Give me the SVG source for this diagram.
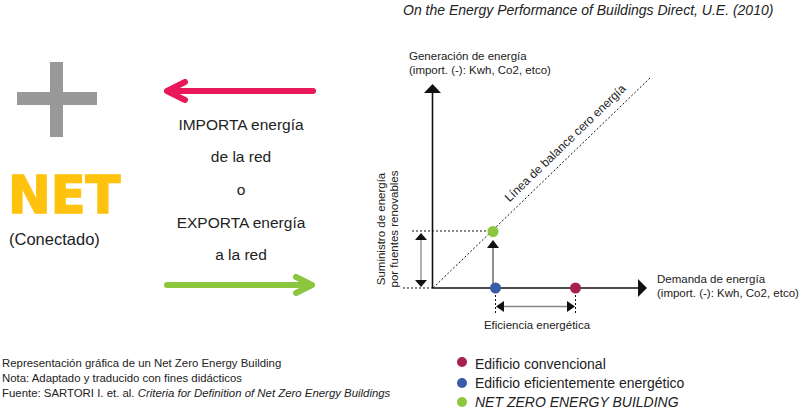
<svg xmlns="http://www.w3.org/2000/svg" width="802" height="412" viewBox="0 0 802 412">
<defs>
<style>
text{font-family:"Liberation Sans","Noto Sans",Arial,sans-serif;fill:#222}
.lbl{font-size:11.5px}
.mid{font-size:15.5px;text-anchor:middle}
.leg{font-size:14px}
.note{font-size:11.4px}
.axis{stroke:#111;stroke-width:1.6;fill:none}
.dot{stroke:#111;stroke-width:1;stroke-dasharray:2,2;fill:none}
.thin{stroke:#333;stroke-width:1.1;fill:none}
.gray{stroke:#888;stroke-width:1.3;fill:none}
.head{fill:#111}
</style>
</defs>
<rect width="802" height="412" fill="#fff"/>

<g id="plus">
<rect x="50" y="62" width="13" height="75" fill="#999"/>
<rect x="17" y="92" width="80" height="13" fill="#999"/>
</g>
<g id="net">
<text x="8" y="213" style="font-family:'DejaVu Sans',sans-serif;font-weight:bold;font-size:51px;fill:#FFC20E;stroke:#FFC20E;stroke-width:1.6">NET</text>
<text x="9" y="245" style="font-size:16.5px">(Conectado)</text>
</g>

<g id="flow-text">
<text class="mid" x="241" y="130">IMPORTA energía</text>
<text class="mid" x="241" y="162">de la red</text>
<text class="mid" x="241" y="195">o</text>
<text class="mid" x="241" y="228">EXPORTA energía</text>
<text class="mid" x="241" y="260">a la red</text>
</g>

<g id="arrows-flow">
<path d="M313 91 L167 91 M185 82 L167 91 L185 100" stroke="#E8185A" stroke-width="6" fill="none" stroke-linecap="round" stroke-linejoin="round"/>
<path d="M167 285 L312 285 M296 277 L312 285 L296 293" stroke="#8CC63F" stroke-width="6" fill="none" stroke-linecap="round" stroke-linejoin="round"/>
</g>

<text x="403" y="15" style="font-size:14px;font-style:italic">On the Energy Performance of Buildings Direct, U.E. (2010)</text>

<g id="connectors">
<line class="axis" x1="432.5" y1="288" x2="432.5" y2="92"/>
<polygon class="head" points="424,93 441,93 432.5,84"/>
<line class="axis" x1="432" y1="288" x2="639" y2="288"/>
<polygon class="head" points="638,279 638,297 647,288"/>
<line class="dot" x1="403" y1="288" x2="432" y2="288"/>
<line class="dot" x1="412" y1="231" x2="492" y2="231"/>
<line class="dot" x1="433" y1="288" x2="651" y2="77"/>
<line class="gray" x1="421" y1="238" x2="421" y2="281"/>
<polygon class="head" points="415,240 427,240 421,233"/>
<polygon class="head" points="415,280 427,280 421,287"/>
<line class="thin" x1="493" y1="288" x2="493" y2="246"/>
<polygon class="head" points="487,248 499,248 493,240"/>
<line class="dot" x1="495.5" y1="291" x2="495.5" y2="313"/>
<line class="dot" x1="575.5" y1="291" x2="575.5" y2="313"/>
<line class="gray" x1="503" y1="306.5" x2="568" y2="306.5"/>
<polygon class="head" points="496,306.5 504,301 504,312"/>
<polygon class="head" points="575,306.5 567,301 567,312"/>
</g>

<g id="points">
<circle cx="493" cy="231.5" r="5.5" fill="#8CC63F"/>
<circle cx="495.5" cy="288" r="5.5" fill="#3A5BA9"/>
<circle cx="575.5" cy="288" r="5.5" fill="#A8204E"/>
</g>

<g id="chart-labels">
<text class="lbl" x="409" y="60">Generación de energía</text>
<text class="lbl" x="409" y="74">(import. (-): Kwh, Co2, etco)</text>
<text class="lbl" x="657" y="283">Demanda de energía</text>
<text class="lbl" x="657" y="297">(import. (-): Kwh, Co2, etco)</text>
<text class="lbl" x="537" y="329" text-anchor="middle">Eficiencia energética</text>
<text class="lbl" transform="translate(385,229) rotate(-90)" text-anchor="middle">Suministro de energía</text>
<text class="lbl" transform="translate(398,229) rotate(-90)" text-anchor="middle">por fuentes renovables</text>
<text class="lbl" transform="translate(568,146) rotate(-44)" text-anchor="middle" style="font-size:12px">Línea de balance cero energía</text>
</g>

<g id="legend">
<circle cx="462" cy="362" r="5" fill="#A8204E"/>
<text class="leg" x="475" y="369">Edificio convencional</text>
<circle cx="462" cy="383" r="5" fill="#3A5BA9"/>
<text class="leg" x="475" y="388">Edificio eficientemente energético</text>
<circle cx="462" cy="402" r="5" fill="#8CC63F"/>
<text class="leg" x="475" y="407" font-style="italic">NET ZERO ENERGY BUILDING</text>
</g>

<g id="notes">
<text class="note" x="2" y="367">Representación gráfica de un Net Zero Energy Building</text>
<text class="note" x="2" y="382">Nota: Adaptado y traducido con fines didácticos</text>
<text class="note" x="2" y="397">Fuente: SARTORI I. et. al. <tspan font-style="italic">Criteria for Definition of Net Zero Energy Buildings</tspan></text>
</g>
</svg>
